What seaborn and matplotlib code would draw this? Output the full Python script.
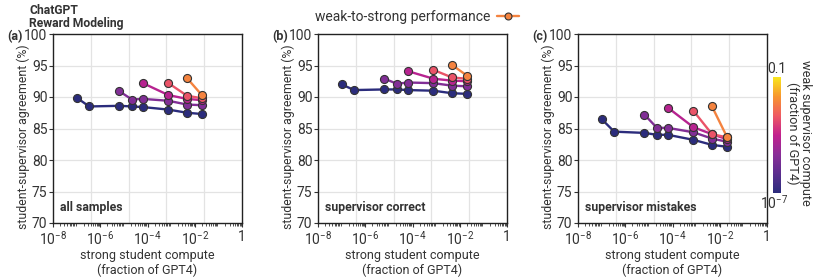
import numpy as np
import pandas as pd
import matplotlib
matplotlib.use("Agg")
import matplotlib.pyplot as plt
import seaborn as sns
from matplotlib.colors import LogNorm, LinearSegmentedColormap
from matplotlib.lines import Line2D
from matplotlib.ticker import LogLocator, NullFormatter

# ---------------- data ----------------
student_compute = [1e-7, 3.4e-7, 6.5e-6, 2.2e-5, 6.4e-5, 7.7e-4, 4.7e-3, 2.0e-2]
# weak supervisors: index of the student compute where each supervisor line starts
supervisor_start = [0, 2, 4, 5, 6]

panel_names = ["all samples", "supervisor correct", "supervisor mistakes"]
panel_letters = ["(a)", "(b)", "(c)"]

all_samples = [
    [89.9, 88.5, 88.6, 88.5, 88.4, 88.0, 87.5, 87.3],
    [90.9, 89.6, 89.7, 89.4, 88.8, 88.7],
    [92.2, 90.3, 89.7, 89.5],
    [92.2, 90.2, 89.8],
    [93.0, 90.3],
]
supervisor_correct = [
    [92.0, 91.1, 91.2, 91.2, 91.1, 91.0, 90.6, 90.5],
    [92.9, 92.1, 92.3, 92.2, 91.8, 91.7],
    [94.1, 92.9, 92.6, 92.5],
    [94.3, 93.1, 92.9],
    [95.1, 93.4],
]
supervisor_mistakes = [
    [86.5, 84.5, 84.3, 84.0, 84.0, 83.2, 82.4, 82.1],
    [87.2, 85.1, 85.1, 84.4, 83.4, 82.9],
    [88.3, 85.2, 84.1, 83.3],
    [87.8, 84.1, 83.6],
    [88.5, 83.7],
]
panel_values = [all_samples, supervisor_correct, supervisor_mistakes]

y_ticks = [70, 75, 80, 85, 90, 95, 100]
x_major = [1e-8, 1e-6, 1e-4, 1e-2, 1]
x_major_labels = [r"$10^{-8}$", r"$10^{-6}$", r"$10^{-4}$", r"$10^{-2}$", "1"]

rows = []
for p, vals in enumerate(panel_values):
    for s, start in enumerate(supervisor_start):
        sup = student_compute[start]
        for k, v in enumerate(vals[s]):
            rows.append(dict(panel=p, student=student_compute[start + k],
                             supervisor=sup, agreement=v))
df = pd.DataFrame(rows)

# ---------------- style ----------------
sns.set_theme(style="white")
plt.rcParams["font.family"] = ["Roboto", "DejaVu Sans"]
plt.rcParams["mathtext.fontset"] = "custom"
plt.rcParams["mathtext.rm"] = "Roboto"
plt.rcParams["mathtext.it"] = "Roboto:italic"
plt.rcParams["mathtext.bf"] = "Roboto:bold"
plt.rcParams["mathtext.default"] = "regular"
TXT = "#333333"

cmap = LinearSegmentedColormap.from_list(
    "w2s", ["#2b2c7c", "#5b2d8e", "#8a2e98", "#c2208e", "#ef5a63", "#f7962e", "#f8e61c"])
norm = LogNorm(1e-7, 0.1)

fig = plt.figure(figsize=(8.3, 2.78), dpi=100)
W, H = 830, 278
lefts = [53, 318, 578]
ax_w, top_px, bot_px = 189, 34, 223

for p in range(3):
    ax = fig.add_axes([lefts[p] / W, 1 - bot_px / H, ax_w / W, (bot_px - top_px) / H])
    sub = df[df.panel == p]
    sns.lineplot(data=sub, x="student", y="agreement", hue="supervisor",
                 units="supervisor", estimator=None,
                 palette=cmap, hue_norm=norm, marker="o", markersize=5.8,
                 markeredgecolor="#333333", markeredgewidth=0.8,
                 linewidth=1.7, legend=False, ax=ax, zorder=3)
    ax.set_xscale("log")
    ax.set_xlim(1e-8, 1)
    ax.set_ylim(70, 100)
    ax.set_yticks(y_ticks)
    ax.set_xticks(x_major)
    ax.set_xticklabels(x_major_labels)
    ax.xaxis.set_minor_locator(LogLocator(base=10, subs=np.arange(2, 10), numticks=20))
    ax.xaxis.set_minor_formatter(NullFormatter())
    # grid at even fractions of the axis width
    for f in [0.2, 0.4, 0.6, 0.8]:
        ax.axvline(10 ** (-8 + 8 * f), color="#e3e3e3", lw=0.9, zorder=0)
    for yv in y_ticks[1:-1]:
        ax.axhline(yv, color="#e3e3e3", lw=0.9, zorder=0)
    ax.tick_params(axis="both", which="major", labelsize=10, colors=TXT,
                   length=3, width=0.8, direction="out", pad=1)
    ax.tick_params(axis="x", which="major", pad=2)
    ax.tick_params(axis="x", which="minor", length=1.8, width=0.6, color=TXT,
                   direction="out", bottom=True)
    ax.tick_params(axis="x", which="major", bottom=True)
    ax.tick_params(axis="y", which="major", left=True)
    for sp in ax.spines.values():
        sp.set_visible(True)
        sp.set_color("#222222")
        sp.set_linewidth(1.0)
    ax.set_xlabel("strong student compute\n(fraction of GPT4)", fontsize=9,
                  color=TXT, labelpad=1, linespacing=1.1)
    ax.set_ylabel("student-supervisor agreement (%)", fontsize=8.8, color=TXT)
    ax.yaxis.set_label_coords(-0.12, 0.455)
    ax.text(0.035, 0.05, panel_names[p], transform=ax.transAxes, fontsize=8.8,
            fontweight="bold", color=TXT, ha="left", va="bottom")
    fig.text((lefts[p] - 46) / W, 1 - 37 / H, panel_letters[p], fontsize=9,
             fontweight="bold", color=TXT, ha="left", va="center")

fig.text(29 / W, 1 - 4 / H, "ChatGPT\nReward Modeling", fontsize=8.7,
         fontweight="bold", color=TXT, ha="left", va="top", linespacing=1.0)

# legend
handle = Line2D([], [], color=cmap(norm(4.7e-3)), marker="o", markersize=5,
                markeredgecolor="#333333", markeredgewidth=0.8, linewidth=1.7)
fig.legend([handle], ["weak-to-strong performance"], loc="center",
           bbox_to_anchor=(417 / W, 1 - 17 / H), frameon=False, markerfirst=False,
           fontsize=10, handlelength=1.6, handletextpad=0.5, labelcolor=TXT)

# colorbar
cax = fig.add_axes([773 / W, 1 - 193 / H, 8 / W, 116 / H])
sm = matplotlib.cm.ScalarMappable(norm=norm, cmap=cmap)
cb = fig.colorbar(sm, cax=cax)
cb.outline.set_visible(False)
cb.set_ticks([])
cb.ax.minorticks_off()
cax.text(0.5, 1.01, "0.1", transform=cax.transAxes, ha="center", va="bottom",
         fontsize=10, color=TXT)
cax.text(0.2, -0.01, r"$10^{-7}$", transform=cax.transAxes, ha="center", va="top",
         fontsize=10, color=TXT)
fig.text(799 / W, 1 - 133 / H, "weak supervisor compute\n(fraction of GPT4)",
         rotation=270, ha="center", va="center", fontsize=9.2, color=TXT,
         linespacing=1.05)

fig.savefig("out.png", dpi=100)
